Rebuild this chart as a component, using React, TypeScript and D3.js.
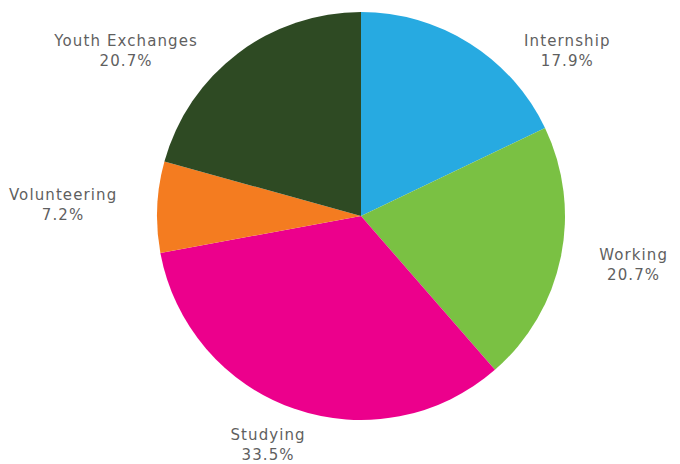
import React from "react";
import * as d3 from "d3";

const categories = ["Internship", "Working", "Studying", "Volunteering", "Youth Exchanges"];
const values = [17.9, 20.7, 33.5, 7.2, 20.7];
const colors = ["#27AAE1", "#7AC143", "#EC008C", "#F47C20", "#2E4A23"];

const W = 680;
const H = 464;
const cx = 361;
const cy = 216;
const R = 204;
const FONT = "'DejaVu Sans', sans-serif";
const FS = 15;
const LS = 1.1;
const LINE = 20;

function measure(s: string): number {
  const c = document.createElement("canvas").getContext("2d");
  if (!c) return s.length * FS * 0.62;
  c.font = `${FS}px 'DejaVu Sans'`;
  return c.measureText(s).width + LS * s.length;
}

export default function App() {
  const pie = d3.pie<number>().sort(null).value((d) => d)(values);
  const arc = d3.arc<d3.PieArcDatum<number>>().innerRadius(0).outerRadius(R);

  const labels = pie.map((p, i) => {
    const a = (p.startAngle + p.endAngle) / 2;
    const sx = Math.sin(a);
    const sy = -Math.cos(a);
    const name = categories[i];
    const pct = values[i].toFixed(1) + "%";
    const w = Math.max(measure(name), measure(pct));
    const h = LINE * 1.8;
    const Rx = R + 40;
    const Ry = R + 21;
    let x = cx + Rx * sx + (w / 2) * sx;
    let y = cy + Ry * sy + (h / 2) * sy;
    const minY = 51;
    if (y < minY) {
      y = minY;
      const dy = y - cy;
      const Rc = R + 28;
      const dx = Math.sqrt(Math.max(0, Rc * Rc - dy * dy));
      x = sx >= 0 ? cx + dx + w / 2 : cx - dx - w / 2;
    }
    return { x, y, name, pct };
  });

  return (
    <svg
      width={W}
      height={H}
      style={{ position: "absolute", left: 0, top: 0, background: "#fff" }}
    >
      <g transform={`translate(${cx},${cy})`}>
        {pie.map((p, i) => (
          <path key={i} d={arc(p) || ""} fill={colors[i]} />
        ))}
      </g>
      {labels.map((l, i) => (
        <text
          key={i}
          x={l.x}
          y={l.y}
          textAnchor="middle"
          fontFamily={FONT}
          fontSize={FS}
          letterSpacing={LS}
          fill="#5f5f5f"
        >
          <tspan x={l.x} dy={-LINE / 2 + 5}>{l.name}</tspan>
          <tspan x={l.x} dy={LINE}>{l.pct}</tspan>
        </text>
      ))}
    </svg>
  );
}
